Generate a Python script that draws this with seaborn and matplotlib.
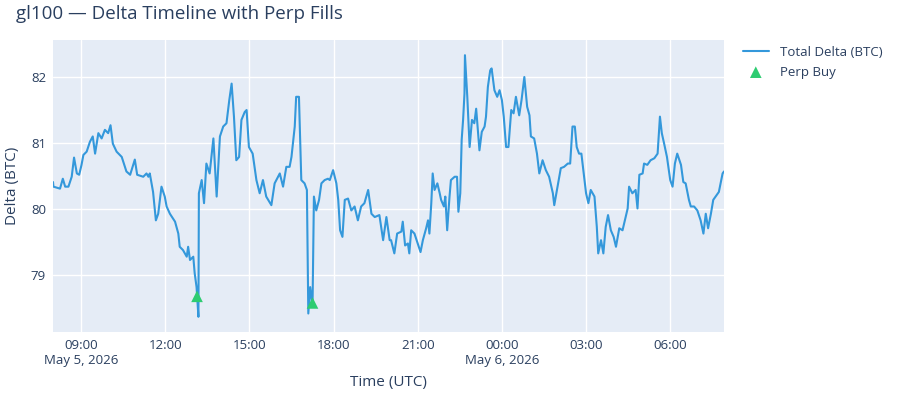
import matplotlib
matplotlib.use("Agg")
import matplotlib.pyplot as plt
import seaborn as sns
import pandas as pd

# minutes since 2026-05-05 08:00 UTC
minutes = [0,1,15,21,26,33,40,45,51,56,61,65,72,79,85,90,97,104,111,118,123,128,136,147,157,165,175,180,193,200,204,207,214,220,225,232,239,243,250,261,268,271,278,286,289,293,300,303,307,311,312,318,323,328,335,343,350,357,364,371,377,382,387,392,398,403,410,414,419,427,435,442,449,456,467,474,485,492,499,506,510,517,520,526,531,538,543,546,550,555,558,563,569,574,581,588,592,599,606,610,614,619,624,631,638,645,652,659,666,674,681,688,698,706,713,720,
723,730,736,745,748,753,759,762,766,773,780,786,791,798,802,805,809,812,816,822,827,830,836,839,843,848,851,859,864,867,871,874,877,880,881,886,891,896,901,905,912,917,923,926,930,935,938,944,950,955,960,964,969,974,980,985,990,997,1002,1008,1014,1019,1022,1029,1035,1040,1047,1054,1061,1069,1072,1079,1086,1093,1101,1106,1111,1116,1120,1125,1130,1135,1140,1145,1150,1158,1163,1166,1172,1177,1182,1187,1193,1199,1204,1211,1218,1223,1229,1232,1239,1246,1250,1254,1261,1264,1271,1278,1286,1293,1298,1302,1307,1313,1320,1325,1330,1335,1343,1348,1353,1360,1364,1371,1378,1385,1391,1396,1401,1407,1412,1417,1424,1432,1435]
delta = [80.41,80.34,80.31,80.46,80.34,80.34,80.49,80.78,80.54,80.52,80.67,80.82,80.87,81.02,81.10,80.84,81.15,81.07,81.20,81.15,81.27,80.99,80.87,80.79,80.57,80.52,80.75,80.52,80.49,80.54,80.49,80.54,80.26,79.83,79.93,80.34,80.19,80.04,79.93,79.81,79.63,79.43,79.38,79.28,79.43,79.23,79.28,79.03,78.82,78.37,80.24,80.44,80.09,80.69,80.54,81.07,80.19,81.10,81.25,81.30,81.65,81.90,81.40,80.74,80.79,81.35,81.47,81.50,80.94,80.84,80.44,80.24,80.44,80.19,80.06,80.39,80.54,80.34,80.64,80.64,80.79,81.25,81.70,81.70,80.44,80.39,80.29,78.42,78.82,78.52,80.19,79.98,80.14,80.39,80.44,80.46,80.44,80.59,80.39,80.14,79.68,79.58,80.14,80.16,79.98,80.04,79.83,80.04,80.09,80.29,79.93,79.88,79.91,79.53,79.88,79.53,
79.53,79.33,79.63,79.66,79.81,79.45,79.48,79.33,79.68,79.63,79.48,79.35,79.53,79.71,79.83,79.63,80.09,80.54,80.29,80.39,80.24,80.14,80.04,80.19,79.68,80.19,80.44,80.49,80.49,79.96,80.24,81.05,81.35,81.75,82.33,81.70,80.94,81.35,81.30,81.52,80.89,81.17,81.25,81.40,81.85,82.10,82.13,81.80,81.70,81.80,81.65,81.40,80.94,80.94,81.50,81.45,81.70,81.42,81.65,82.00,81.55,81.42,81.10,81.07,80.84,80.54,80.74,80.59,80.49,80.24,80.06,80.34,80.62,80.64,80.69,80.69,81.25,81.25,80.94,80.84,80.84,80.54,80.24,80.09,80.29,80.19,79.73,79.33,79.53,79.33,79.73,79.91,79.68,79.58,79.43,79.71,79.68,79.83,80.01,80.34,80.24,80.29,80.01,80.52,80.54,80.69,80.67,80.74,80.77,80.84,81.40,81.15,80.99,80.79,80.44,80.34,80.69,80.84,80.67,80.41,80.39,80.14,80.04,80.04,79.98,79.83,79.63,79.93,79.71,79.93,80.14,80.19,80.26,80.54,80.57]

perp_minutes = [308, 555]
perp_delta = [78.68, 78.58]

start = pd.Timestamp("2026-05-05 08:00")
df = pd.DataFrame({"time": start + pd.to_timedelta(minutes, unit="m"), "delta": delta})
pf = pd.DataFrame({"time": start + pd.to_timedelta(perp_minutes, unit="m"), "delta": perp_delta})

sns.set_style("darkgrid", {"axes.facecolor": "#E5ECF6", "grid.color": "white"})
plt.rcParams["font.family"] = ["Open Sans", "DejaVu Sans"]
txt = "#2a3f5f"

fig = plt.figure(figsize=(9, 4), dpi=100)
ax = fig.add_axes([53/900, 1-332/400, (724-53)/900, (332-40)/400])
sns.lineplot(data=df, x="time", y="delta", ax=ax, color="#3498DB", linewidth=1.5, label="Total Delta (BTC)")
sns.scatterplot(data=pf, x="time", y="delta", ax=ax, color="#2ECC71", marker="^", s=70, edgecolor="none", label="Perp Buy", zorder=5)

ax.set_xlim(start, start + pd.Timedelta(minutes=1435))
ax.set_ylim(78.14, 82.56)
ax.set_yticks([79, 80, 81, 82])
ticks = [pd.Timestamp("2026-05-05 09:00") + pd.Timedelta(hours=3*i) for i in range(8)]
labels = ["09:00\nMay 5, 2026", "12:00", "15:00", "18:00", "21:00", "00:00\nMay 6, 2026", "03:00", "06:00"]
ax.set_xticks(ticks)
ax.set_xticklabels(labels, ha="center", va="top")
ax.tick_params(colors=txt, labelsize=9.5, length=0, pad=5)
ax.grid(color="white", linewidth=1)
for s in ax.spines.values():
    s.set_visible(False)
ax.set_xlabel("Time (UTC)", color=txt, fontsize=11, labelpad=6)
ax.set_ylabel("Delta (BTC)", color=txt, fontsize=11, labelpad=8)
fig.text(16/900, 1-14/400, "gl100 — Delta Timeline with Perp Fills", color=txt, fontsize=13.5, va="center")
ax.legend(loc="upper left", bbox_to_anchor=(1.01, 1.02), frameon=False, fontsize=9.5, labelcolor=txt, handlelength=2)
fig.savefig("out.png", dpi=100)
